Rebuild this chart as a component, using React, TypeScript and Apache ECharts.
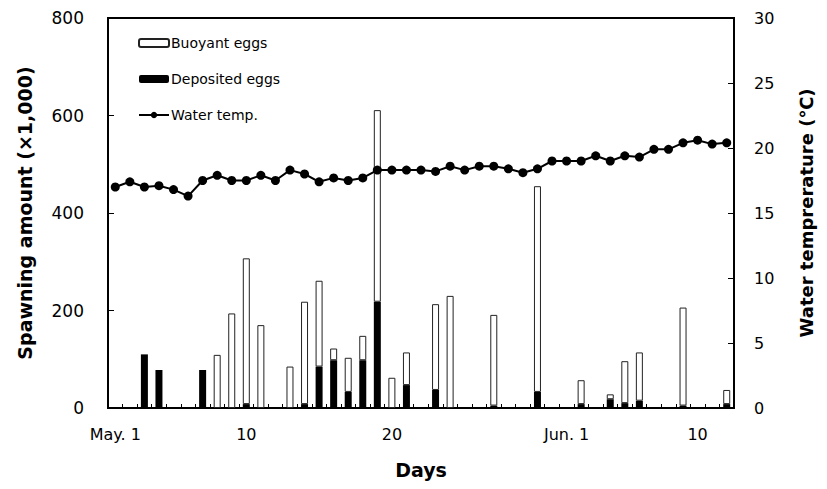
import React, { useEffect, useRef } from "react";
import * as echarts from "echarts";

const days = [
  "May 1", "May 2", "May 3", "May 4", "May 5", "May 6", "May 7", "May 8", "May 9", "May 10",
  "May 11", "May 12", "May 13", "May 14", "May 15", "May 16", "May 17", "May 18", "May 19", "May 20",
  "May 21", "May 22", "May 23", "May 24", "May 25", "May 26", "May 27", "May 28", "May 29", "May 30",
  "May 31", "Jun 1", "Jun 2", "Jun 3", "Jun 4", "Jun 5", "Jun 6", "Jun 7", "Jun 8", "Jun 9",
  "Jun 10", "Jun 11", "Jun 12",
];

const tickIndex = [0, 9, 19, 31, 40];
const tickText = ["May. 1", "10", "20", "Jun. 1", "10"];

const deposited = [
  null, null, 110, 78, null, null, 78, null, null, 8,
  null, null, null, 8, 85, 98, 33, 98, 218, null,
  47, null, 37, null, null, null, 5, null, null, 33,
  null, null, 8, null, 18, 10, 15, null, null, 5,
  null, null, 8,
];

const buoyant = [
  null, null, null, null, null, null, null, 109, 194, 299,
  170, null, 85, 210, 176, 24, 70, 50, 393, 62,
  67, null, 176, 230, null, null, 186, null, null, 422,
  null, null, 49, null, 10, 86, 99, null, null, 201,
  null, null, 29,
];

const waterTemp = [
  17.0, 17.4, 17.0, 17.1, 16.8, 16.3, 17.5, 17.9, 17.5, 17.5,
  17.9, 17.5, 18.3, 18.0, 17.4, 17.7, 17.5, 17.7, 18.3, 18.3,
  18.3, 18.3, 18.2, 18.6, 18.3, 18.6, 18.6, 18.4, 18.1, 18.4,
  19.0, 19.0, 19.0, 19.4, 19.0, 19.4, 19.3, 19.9, 19.9, 20.4,
  20.6, 20.3, 20.4,
];

const FONT = "DejaVu Sans";

export default function App() {
  const ref = useRef<HTMLDivElement>(null);

  useEffect(() => {
    if (!ref.current) return;
    const chart = echarts.init(ref.current, undefined, { renderer: "svg" });
    const axisLineStyle = { color: "#000", width: 2 };
    chart.setOption({
      animation: false,
      backgroundColor: "#fff",
      grid: {
        left: 108,
        right: 93,
        top: 18,
        bottom: 81,
        show: true,
        borderColor: "#000",
        borderWidth: 2,
      },
      legend: {
        orient: "vertical",
        left: 133,
        top: 31,
        itemWidth: 30,
        itemHeight: 8,
        itemGap: 22,
        data: ["Buoyant eggs", "Deposited eggs", "Water temp."],
        textStyle: { color: "#000", fontSize: 14, fontFamily: FONT, padding: [0, 0, 0, -3] },
      },
      xAxis: {
        type: "category",
        data: days,
        boundaryGap: true,
        name: "Days",
        nameLocation: "middle",
        nameGap: 52,
        nameTextStyle: { color: "#000", fontSize: 19, fontWeight: "bold", fontFamily: FONT },
        axisLine: { lineStyle: axisLineStyle },
        axisTick: { show: true, inside: true, length: 4, interval: 0, lineStyle: { color: "#000", width: 1 } },
        axisLabel: {
          interval: (index: number) => tickIndex.indexOf(index) >= 0,
          formatter: (_v: string, index: number) => {
            const k = tickIndex.indexOf(index);
            return k >= 0 ? tickText[k] : "";
          },
          color: "#000",
          fontSize: 16,
          fontFamily: FONT,
          margin: 18,
        },
        splitLine: { show: false },
      },
      yAxis: [
        {
          type: "value",
          min: 0,
          max: 800,
          interval: 200,
          name: "Spawning amount (×1,000)",
          nameLocation: "middle",
          nameGap: 74,
          nameRotate: 90,
          nameTextStyle: { color: "#000", fontSize: 19, fontWeight: "bold", fontFamily: FONT },
          axisLine: { show: true, lineStyle: axisLineStyle },
          axisTick: { show: true, inside: true, length: 6, lineStyle: { color: "#000", width: 1 } },
          axisLabel: { color: "#000", fontSize: 17, fontFamily: FONT, margin: 24 },
          splitLine: { show: false },
        },
        {
          type: "value",
          min: 0,
          max: 30,
          interval: 5,
          position: "right",
          name: "Water temprerature (℃)",
          nameLocation: "middle",
          nameGap: 63,
          nameRotate: 90,
          nameTextStyle: { color: "#000", fontSize: 18, fontWeight: "bold", fontFamily: FONT },
          axisLine: { show: true, lineStyle: axisLineStyle },
          axisTick: { show: true, inside: true, length: 6, lineStyle: { color: "#000", width: 1 } },
          axisLabel: { color: "#000", fontSize: 16, fontFamily: FONT, margin: 20 },
          splitLine: { show: false },
        },
      ],
      series: [
        {
          name: "Deposited eggs",
          type: "bar",
          stack: "eggs",
          barWidth: 7,
          data: deposited,
          itemStyle: { color: "#000", borderColor: "#000", borderWidth: 0 },
        },
        {
          name: "Buoyant eggs",
          type: "bar",
          stack: "eggs",
          barWidth: 7,
          data: buoyant,
          itemStyle: { color: "#fff", borderColor: "#222", borderWidth: 1 },
        },
        {
          name: "Water temp.",
          type: "line",
          yAxisIndex: 1,
          data: waterTemp,
          symbol: "circle",
          symbolSize: 9,
          lineStyle: { color: "#000", width: 2 },
          itemStyle: { color: "#000" },
        },
      ],
    });
    return () => chart.dispose();
  }, []);

  return <div ref={ref} style={{ width: 827, height: 489, margin: -8 }} />;
}
